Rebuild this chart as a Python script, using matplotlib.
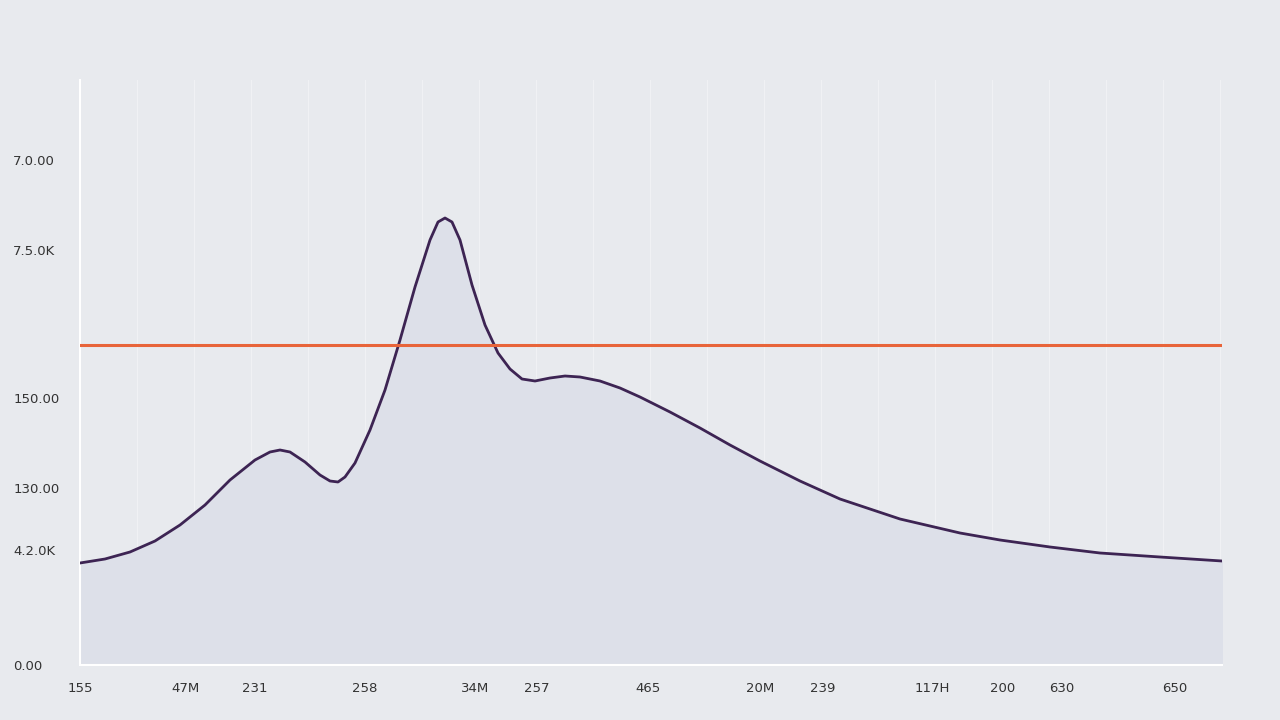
import numpy as np
import matplotlib.pyplot as plt

# curve samples (x position, height)
curve_x = [0, 25, 50, 75, 100, 125, 150, 175, 190, 200, 210, 225, 240, 250, 258,
           265, 275, 290, 305, 320, 335, 350, 358, 365, 372, 380, 392, 405, 418,
           430, 442, 455, 470, 485, 500, 520, 540, 560, 590, 620, 650, 680, 720,
           760, 820, 880, 920, 970, 1020, 1080, 1142]
curve_y = [102, 106, 113, 124, 140, 160, 185, 205, 213, 215, 213, 203, 190, 184, 183,
           188, 202, 235, 275, 325, 378, 425, 443, 447, 443, 425, 380, 340, 312,
           296, 286, 284, 287, 289, 288, 284, 277, 268, 253, 237, 220, 204, 184,
           166, 146, 132, 125, 118, 112, 108, 104]
ref_level = 320

y_ticks = [0, 115, 177, 267, 415, 505]
y_labels = ["0.00", "4.2.0K", "130.00", "150.00", "7.5.0K", "7.0.00"]
x_ticks = [0, 105, 175, 285, 395, 457, 568, 680, 743, 852, 923, 982, 1095]
x_labels = ["155", "47M", "231", "258", "34M", "257", "465", "20M", "239",
            "117H", "200", "630", "650"]

bg = "#e8eaee"
fig = plt.figure(figsize=(12.8, 7.2), dpi=100, facecolor=bg)
ax = fig.add_axes([80 / 1280, 55 / 720, 1142 / 1280, 585 / 720])
ax.set_facecolor(bg)

ax.fill_between(curve_x, curve_y, 0, color="#dde0e9", zorder=1)
ax.plot(curve_x, curve_y, color="#3d2453", lw=2, zorder=3)
ax.axhline(ref_level, color="#e8643a", lw=2.2, zorder=4)

for xv in np.arange(0, 1142, 57):
    ax.axvline(xv, color="#f0f1f4", lw=0.8, zorder=0)

ax.set_xlim(0, 1142)
ax.set_ylim(0, 585)
ax.set_yticks(y_ticks, y_labels)
ax.set_xticks(x_ticks, x_labels)
ax.tick_params(length=0, labelsize=9.5, colors="#333333")
ax.tick_params(axis="y", pad=48)
for lab in ax.get_yticklabels():
    lab.set_horizontalalignment("left")
ax.tick_params(axis="x", pad=12)
for s in ["top", "right"]:
    ax.spines[s].set_visible(False)
for s in ["left", "bottom"]:
    ax.spines[s].set_color("white")
    ax.spines[s].set_linewidth(1.5)

fig.savefig("out.png", dpi=100, facecolor=bg)
